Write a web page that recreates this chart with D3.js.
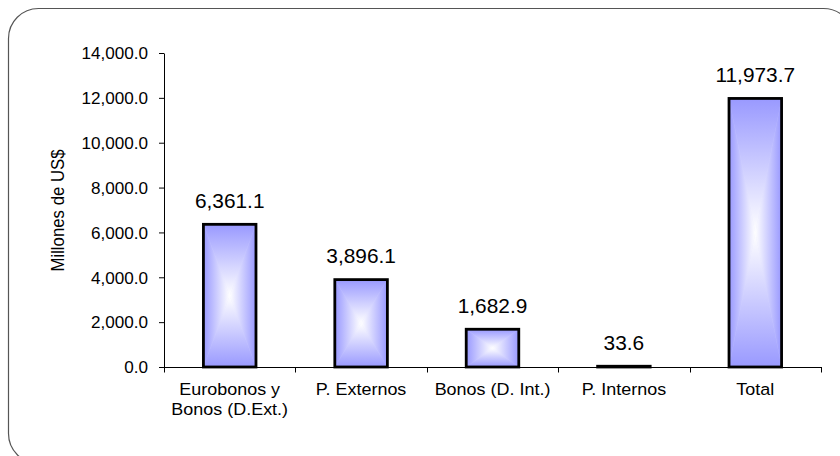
<!DOCTYPE html>
<html>
<head>
<meta charset="utf-8">
<script src="https://cdn.jsdelivr.net/npm/d3@7"></script>
<style>
  html, body { margin: 0; padding: 0; background: #fff; }
  svg { display: block; font-family: "Liberation Sans", Arial, sans-serif; }
</style>
</head>
<body>
<svg id="chart" width="840" height="456"></svg>
<script>
const categories = ["Eurobonos y\nBonos (D.Ext.)", "P. Externos", "Bonos (D. Int.)", "P. Internos", "Total"];
const values = [6361.1, 3896.1, 1682.9, 33.6, 11973.7];
const yTicks = [0, 2000, 4000, 6000, 8000, 10000, 12000, 14000];
const yTitle = "Millones de US$";

const svg = d3.select("#chart");
const SX = 1.07; // horizontal text stretch seen in the reference

// outer rounded frame
svg.append("rect")
  .attr("x", 8.5).attr("y", 8.5)
  .attr("width", 845).attr("height", 455)
  .attr("rx", 30).attr("ry", 30)
  .attr("fill", "none").attr("stroke", "#555").attr("stroke-width", 1.2);

const plot = { left: 164, right: 821, top: 53, bottom: 367 };

const x = d3.scaleBand()
  .domain(categories)
  .range([plot.left, plot.right])
  .paddingInner(0.6)
  .paddingOuter(0.3);

const y = d3.scaleLinear()
  .domain([0, 14000])
  .range([plot.bottom, plot.top]);

// gradients
const defs = svg.append("defs");
const edge = "#9999ff", mid = "#ffffff";
function lg(id, x1, y1, x2, y2, c1, c2) {
  const g = defs.append("linearGradient").attr("id", id)
    .attr("x1", x1).attr("y1", y1).attr("x2", x2).attr("y2", y2);
  g.append("stop").attr("offset", "0%").attr("stop-color", c1);
  g.append("stop").attr("offset", "100%").attr("stop-color", c2);
}
lg("gTop", 0, 0, 0, 1, edge, mid);
lg("gBot", 0, 0, 0, 1, mid, edge);
lg("gLeft", 0, 0, 1, 0, edge, mid);
lg("gRight", 0, 0, 1, 0, mid, edge);

// y axis
const yAxis = svg.append("g")
  .attr("transform", `translate(${plot.left},0)`)
  .call(d3.axisLeft(y).tickValues(yTicks).tickFormat(d3.format(",.1f")).tickSize(5).tickSizeOuter(0));
yAxis.select(".domain").attr("stroke", "#000");
yAxis.selectAll(".tick line").attr("stroke", "#000");
yAxis.selectAll(".tick text")
  .attr("font-family", "Liberation Sans, Arial, sans-serif")
  .attr("font-size", 16)
  .attr("fill", "#000")
  .attr("x", -16 / SX)
  .attr("dy", "0.36em")
  .attr("transform", `scale(${SX},1)`);

// bars
const bars = svg.append("g");
values.forEach((v, i) => {
  const c = categories[i];
  const x0 = x(c), x1 = x(c) + x.bandwidth();
  const y0 = y(v), y1 = y(0);
  const cx = (x0 + x1) / 2, cy = (y0 + y1) / 2;
  const g = bars.append("g");
  g.append("rect").attr("x", x0).attr("y", y0).attr("width", x1 - x0).attr("height", y1 - y0).attr("fill", "#d6d6ff");
  const tri = (pts, fill) => g.append("polygon")
    .attr("points", pts.map(p => p.join(",")).join(" "))
    .attr("fill", `url(#${fill})`)
    .attr("stroke", `url(#${fill})`).attr("stroke-width", 0.4);
  tri([[x0, y0], [x1, y0], [cx, cy]], "gTop");
  tri([[x0, y1], [x1, y1], [cx, cy]], "gBot");
  tri([[x0, y0], [x0, y1], [cx, cy]], "gLeft");
  tri([[x1, y0], [x1, y1], [cx, cy]], "gRight");
  g.append("rect").attr("x", x0).attr("y", y0).attr("width", x1 - x0).attr("height", y1 - y0)
    .attr("fill", "none").attr("stroke", "#000").attr("stroke-width", 2.8);
  // value label
  g.append("text")
    .attr("transform", `translate(${cx},${y0 - 16.5}) scale(${SX},1)`)
    .attr("text-anchor", "middle")
    .attr("font-size", 19.5)
    .attr("fill", "#000")
    .text(d3.format(",.1f")(v));
});

// x axis line and tick marks at category boundaries
const xa = svg.append("g");
xa.append("line")
  .attr("x1", plot.left).attr("x2", plot.right)
  .attr("y1", y(0) + 0.5).attr("y2", y(0) + 0.5)
  .attr("stroke", "#000").attr("stroke-width", 1);
d3.range(categories.length + 1).forEach(i => {
  const px = Math.round(x.range()[0] + i * x.step()) + 0.5;
  xa.append("line")
    .attr("x1", px).attr("x2", px)
    .attr("y1", y(0)).attr("y2", y(0) + 5.5)
    .attr("stroke", "#000").attr("stroke-width", 1);
});

// category labels
categories.forEach(c => {
  const cx = x(c) + x.bandwidth() / 2;
  const t = xa.append("text")
    .attr("transform", `translate(${cx},394.5) scale(${SX},1)`)
    .attr("text-anchor", "middle")
    .attr("font-size", 16.8)
    .attr("fill", "#000");
  c.split("\n").forEach((line, j) => {
    t.append("tspan").attr("x", 0).attr("y", j * 21).text(line);
  });
});

// y title
svg.append("text")
  .attr("transform", `translate(64,210.5) scale(${SX},1) rotate(-90)`)
  .attr("text-anchor", "middle")
  .attr("font-size", 16.8)
  .attr("fill", "#000")
  .text(yTitle);
</script>
</body>
</html>
